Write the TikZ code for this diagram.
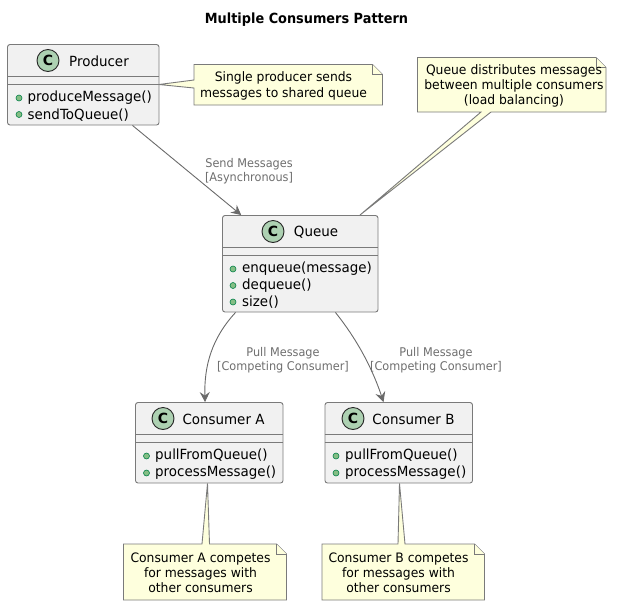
\documentclass[tikz,border=0pt]{standalone}
\usepackage{fontspec}
\setmainfont{DejaVu Sans}
\newfontfamily\classfont[FakeStretch=0.96]{DejaVu Sans}
\newfontfamily\notefont[FakeStretch=0.95]{DejaVu Sans}
\newfontfamily\linkfont[FakeStretch=0.94]{DejaVu Sans}
\newfontfamily\titlefont[FakeStretch=0.92]{DejaVu Sans Bold}
\usetikzlibrary{arrows.meta,calc}
\definecolor{boxfill}{HTML}{F1F1F1}
\definecolor{boxline}{HTML}{7A7A7A}
\definecolor{notefill}{HTML}{FEFFDD}
\definecolor{linkcol}{HTML}{6A6A6A}
\definecolor{linklabel}{HTML}{6E6E6E}
\definecolor{iconfill}{HTML}{ADD1B2}
\definecolor{bulletfill}{HTML}{84BE84}
\definecolor{bulletline}{HTML}{038048}
\tikzset{
  classbox/.style={draw=boxline,fill=boxfill,line width=0.9pt,rounded corners=2.5pt,inner sep=0pt},
  sepline/.style={draw=boxline,line width=0.9pt},
  classicon/.style={circle,draw=black!85,fill=iconfill,line width=0.9pt,minimum size=22pt,inner sep=0pt,font=\fontsize{14}{14}\selectfont\bfseries},
  classname/.style={inner sep=0pt,font=\classfont\fontsize{14}{14}\selectfont},
  method/.style={inner sep=0pt,anchor=west,font=\classfont\fontsize{14}{14}\selectfont},
  bullet/.style={circle,draw=bulletline,fill=bulletfill,line width=0.6pt,minimum size=6pt,inner sep=0pt},
  notebody/.style={draw=boxline,fill=notefill,line width=0.9pt,line join=miter},
  notetext/.style={inner sep=0pt,align=center,font=\notefont\fontsize{13}{15.2}\selectfont},
  linktext/.style={inner sep=0pt,align=center,text=linklabel,font=\linkfont\fontsize{12}{14}\selectfont},
  flow/.style={draw=linkcol,line width=0.9pt,-{Stealth[length=10pt,width=10pt,inset=3.5pt]}}
}
\begin{document}
\begin{tikzpicture}[x=1pt,y=-1pt]
\useasboundingbox (0,0) rectangle (625,606);
\node[inner sep=0pt,font=\titlefont\fontsize{14}{14}\selectfont] (title) at (306.5,19.5) {Multiple Consumers Pattern};

\node[classbox,minimum width=151.5pt,minimum height=80.5pt] (producer) at (83.25,84.75) {};
\node[classbox,minimum width=155.5pt,minimum height=96.5pt] (queue) at (300.25,263.75) {};
\node[classbox,minimum width=147.5pt,minimum height=80.5pt] (consA) at (209.25,442.75) {};
\node[classbox,minimum width=147.5pt,minimum height=80.5pt] (consB) at (398.75,442.75) {};

\draw[flow] (producer) -- (queue);
\draw[flow] ($(queue.south west)+(13.5,0)$) .. controls +(-24,26) and +(-1,-36) .. ($(consA.north west)+(70,0)$);
\draw[flow] ($(queue.south east)+(-43,0)$) .. controls +(24,30) and +(-10,-30) .. ($(consB.north west)+(59,0)$);

\foreach \n in {producer,consA,consB,queue}{
  \draw[sepline] ($(\n.north west)+(0,32)$) -- ($(\n.north east)+(0,32)$);
  \draw[sepline] ($(\n.north west)+(0,40)$) -- ($(\n.north east)+(0,40)$);
}

% Producer
\node[classicon] (icP) at (48,60.5) {C};
\node[classname] (nmP) at (99,61) {Producer};
\node[bullet] (bP1) at (19,98) {};
\node[method] (mP1) at (27.5,98) {produceMessage()};
\node[bullet] (bP2) at (19,114.5) {};
\node[method] (mP2) at (27.5,115) {sendToQueue()};

% Queue
\node[classicon] (icQ) at (273,231.5) {C};
\node[classname] (nmQ) at (316,232) {Queue};
\node[bullet] (bQ1) at (233,269) {};
\node[method] (mQ1) at (242,269) {enqueue(message)};
\node[bullet] (bQ2) at (233,285.5) {};
\node[method] (mQ2) at (242,285.5) {dequeue()};
\node[bullet] (bQ3) at (233,302) {};
\node[method] (mQ3) at (242,302) {size()};

% Consumer A
\node[classicon] (icA) at (163,418.5) {C};
\node[classname] (nmA) at (223.5,419) {Consumer A};
\node[bullet] (bA1) at (146.5,456) {};
\node[method] (mA1) at (155,456) {pullFromQueue()};
\node[bullet] (bA2) at (146.5,473) {};
\node[method] (mA2) at (155,473) {processMessage()};

% Consumer B
\node[classicon] (icB) at (353,418.5) {C};
\node[classname] (nmB) at (413.5,419) {Consumer B};
\node[bullet] (bB1) at (336,456) {};
\node[method] (mB1) at (345,456) {pullFromQueue()};
\node[bullet] (bB2) at (336,473) {};
\node[method] (mB2) at (345,473) {processMessage()};

% Link labels
\node[linktext] (l1) at (249,171.5) {Send Messages\\{}[Asynchronous]};
\node[linktext] (l2) at (283,360) {Pull Message\\{}[Competing Consumer]};
\node[linktext] (l3) at (436,360) {Pull Message\\{}[Competing Consumer]};

% Notes
\path[notebody] (194,64.5) -- (372.5,64.5) -- (382.5,74.5) -- (382.5,105) -- (194,105) -- (194,88) -- (159,84.5) -- (194,80) -- cycle;
\draw[notebody] (372.5,64.5) -- (372.5,74.5) -- (382.5,74.5);
\node[notetext] (n1) at (283.5,86) {Single producer sends\\messages to shared queue};

\path[notebody] (417.5,57.5) -- (596,57.5) -- (606,67.5) -- (606,112) -- (491,112) -- (360,215) -- (481,112) -- (417.5,112) -- cycle;
\draw[notebody] (596,57.5) -- (596,67.5) -- (606,67.5);
\node[notetext] (n2) at (514,86) {Queue distributes messages\\between multiple consumers\\(load balancing)};

\path[notebody] (123.5,544) -- (202,544) -- (207.5,483.5) -- (209.5,544) -- (276.5,544) -- (286.5,554) -- (286.5,600) -- (123.5,600) -- cycle;
\draw[notebody] (276.5,544) -- (276.5,554) -- (286.5,554);
\node[notetext] (n3) at (200.5,573) {Consumer A competes\\for messages with\\other consumers};

\path[notebody] (322,544) -- (398,544) -- (399.5,483.5) -- (405,544) -- (474.5,544) -- (484.5,554) -- (484.5,600) -- (322,600) -- cycle;
\draw[notebody] (474.5,544) -- (474.5,554) -- (484.5,554);
\node[notetext] (n4) at (398.5,573) {Consumer B competes\\for messages with\\other consumers};
\end{tikzpicture}
\end{document}
